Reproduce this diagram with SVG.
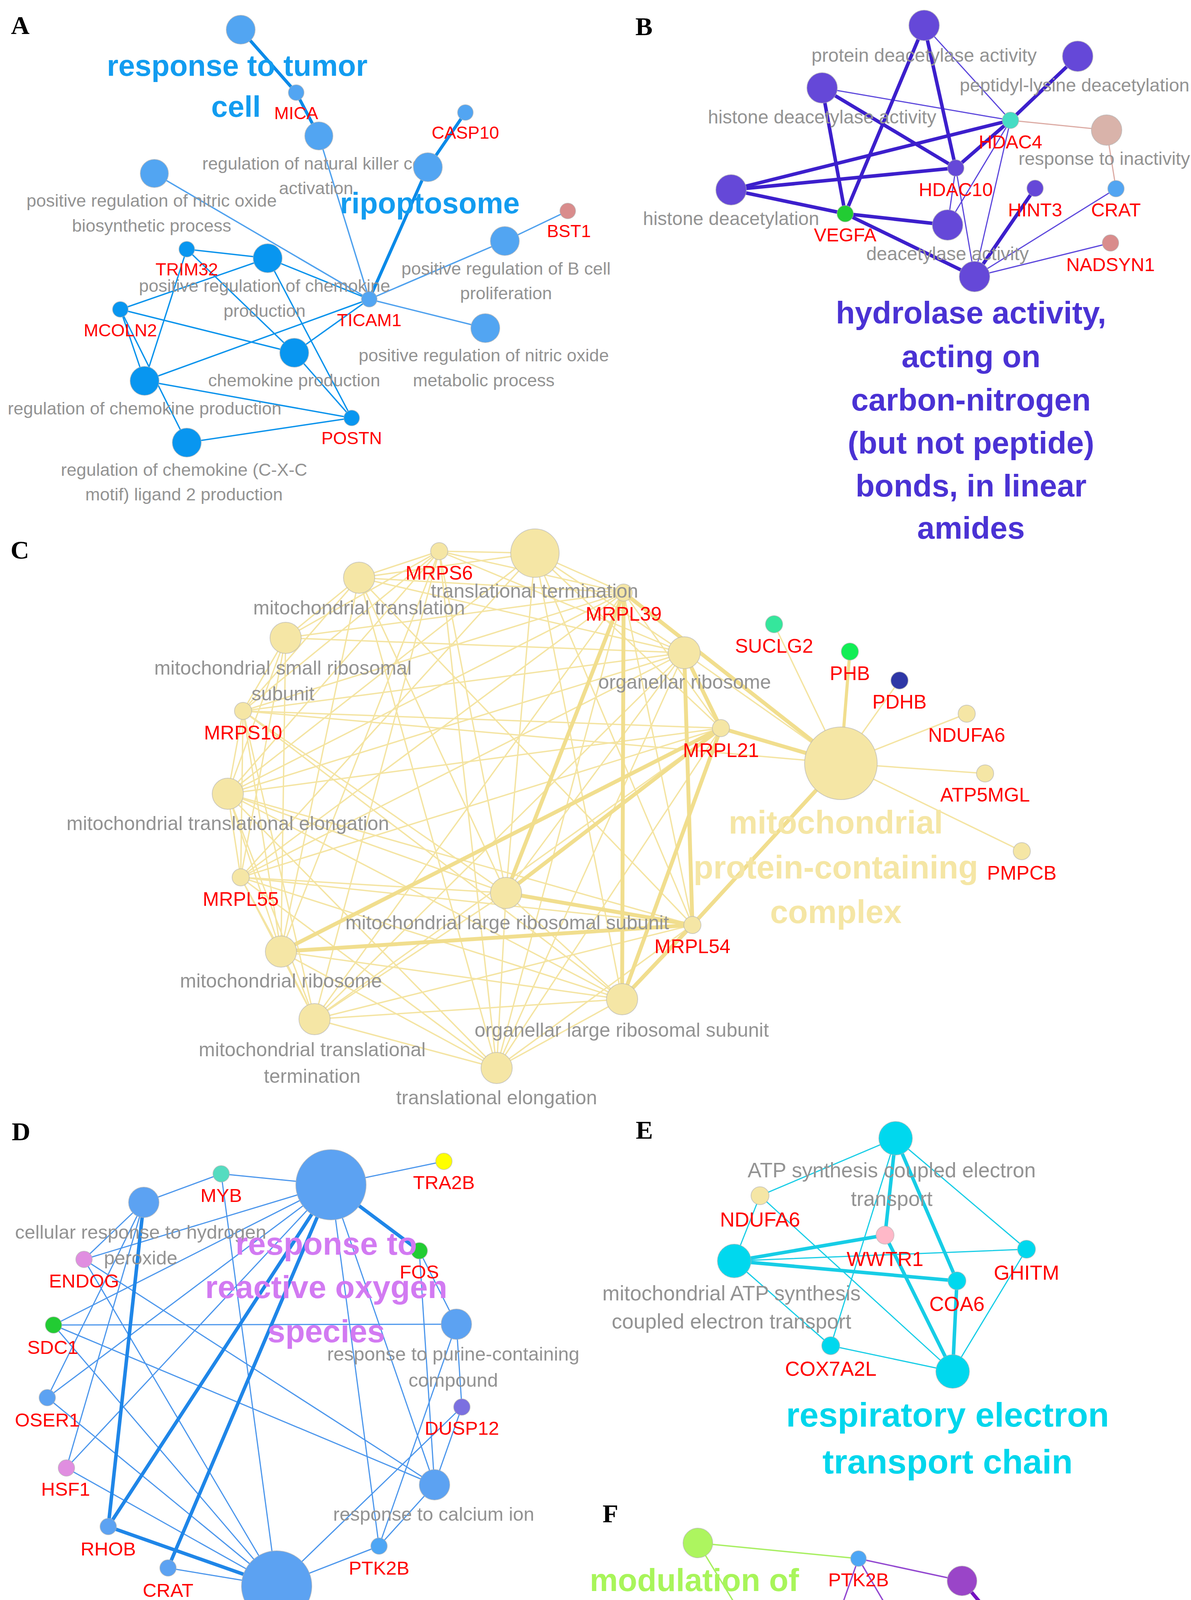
<svg xmlns="http://www.w3.org/2000/svg" width="3048" height="4742" viewBox="0 0 3048 4742">
<style>
.lbl{font-family:"Liberation Sans",Arial,sans-serif;text-anchor:middle;dominant-baseline:central}
.gr{fill:#939393}
.rd{fill:#ff0000}
.bd{font-weight:bold}
.pl{font-family:"Liberation Serif","Times New Roman",serif;font-weight:bold;font-size:66px;fill:#000}
circle{stroke:#b0b0b0;stroke-width:2;stroke-opacity:.6}
line{stroke-linecap:round}
.fa{font-size:45px}.fb{font-size:48px}.fc{font-size:50px}.fd{font-size:49px}.fe{font-size:53px}.fe2{font-size:52px}.ff{font-size:49px}
.ea1{stroke:#0a8ae8;stroke-width:8}.ea2{stroke:#4fa1ee;stroke-width:3.5}.ea3{stroke:#0b93ec;stroke-width:3.5}
.eb1{stroke:#3c1fcc;stroke-width:9}.eb2{stroke:#5c47dc;stroke-width:3}.eb3{stroke:#dcaba4;stroke-width:3}
.ec1{stroke:#f1de8e;stroke-width:10}.ec2{stroke:#f4e4a2;stroke-width:3.5}
.ed1{stroke:#1f86e8;stroke-width:9}.ed2{stroke:#4b96ec;stroke-width:3}
.ee1{stroke:#17cde6;stroke-width:9}.ee2{stroke:#17cde6;stroke-width:3}
.ef1{stroke:#7412c0;stroke-width:9}.ef2{stroke:#9348d0;stroke-width:3.5}.ef3{stroke:#a8ef62;stroke-width:3.5}
</style>
<rect width="3048" height="4742" fill="#ffffff"/>

<g id="panel-letters">
<text class="pl" x="28" y="87">A</text>
<text class="pl" x="1626" y="90">B</text>
<text class="pl" x="27" y="1430">C</text>
<text class="pl" x="30" y="2919">D</text>
<text class="pl" x="1627" y="2915">E</text>
<text class="pl" x="1542" y="3897">F</text>
</g>

<g id="connectors">
<!-- Panel A -->
<line class="ea1" x1="616" y1="76" x2="758" y2="237"/>
<line class="ea1" x1="758" y1="237" x2="816" y2="348"/>
<line class="ea1" x1="1191" y1="288" x2="1095" y2="428"/>
<line class="ea1" x1="1095" y1="428" x2="945" y2="766"/>
<line class="ea2" x1="816" y1="348" x2="945" y2="766"/>
<line class="ea2" x1="395" y1="444" x2="945" y2="766"/>
<line class="ea2" x1="1292" y1="617" x2="945" y2="766"/>
<line class="ea2" x1="1453" y1="540" x2="1292" y2="617"/>
<line class="ea2" x1="1242" y1="840" x2="945" y2="766"/>
<line class="ea3" x1="685" y1="661" x2="945" y2="766"/>
<line class="ea3" x1="753" y1="903" x2="945" y2="766"/>
<line class="ea3" x1="370" y1="975" x2="945" y2="766"/>
<line class="ea3" x1="478" y1="638" x2="685" y2="661"/>
<line class="ea3" x1="478" y1="638" x2="753" y2="903"/>
<line class="ea3" x1="478" y1="638" x2="370" y2="975"/>
<line class="ea3" x1="308" y1="792" x2="685" y2="661"/>
<line class="ea3" x1="308" y1="792" x2="753" y2="903"/>
<line class="ea3" x1="308" y1="792" x2="370" y2="975"/>
<line class="ea3" x1="308" y1="792" x2="478" y2="1133"/>
<line class="ea3" x1="685" y1="661" x2="900" y2="1070"/>
<line class="ea3" x1="753" y1="903" x2="900" y2="1070"/>
<line class="ea3" x1="370" y1="975" x2="900" y2="1070"/>
<line class="ea3" x1="478" y1="1133" x2="900" y2="1070"/>
<!-- Panel B -->
<line class="eb2" x1="2365" y1="65" x2="2586" y2="308"/>
<line class="eb2" x1="2104" y1="225" x2="2586" y2="308"/>
<line class="eb2" x1="2586" y1="308" x2="2425" y2="576"/>
<line class="eb2" x1="2586" y1="308" x2="2494" y2="708"/>
<line class="eb2" x1="2446" y1="430" x2="2425" y2="576"/>
<line class="eb2" x1="2446" y1="430" x2="2494" y2="708"/>
<line class="eb2" x1="2856" y1="483" x2="2494" y2="708"/>
<line class="eb2" x1="2842" y1="622" x2="2494" y2="708"/>
<line class="eb3" x1="2586" y1="308" x2="2832" y2="333"/>
<line class="eb3" x1="2832" y1="333" x2="2856" y2="483"/>
<line class="eb1" x1="2365" y1="65" x2="2163" y2="547"/>
<line class="eb1" x1="2365" y1="65" x2="2446" y2="430"/>
<line class="eb1" x1="2104" y1="225" x2="2163" y2="547"/>
<line class="eb1" x1="2104" y1="225" x2="2446" y2="430"/>
<line class="eb1" x1="1871" y1="486" x2="2586" y2="308"/>
<line class="eb1" x1="1871" y1="486" x2="2446" y2="430"/>
<line class="eb1" x1="1871" y1="486" x2="2163" y2="547"/>
<line class="eb1" x1="2163" y1="547" x2="2425" y2="576"/>
<line class="eb1" x1="2163" y1="547" x2="2494" y2="708"/>
<line class="eb1" x1="2586" y1="308" x2="2758" y2="144"/>
<line class="eb1" x1="2586" y1="308" x2="2446" y2="430"/>
<line class="eb1" x1="2649" y1="482" x2="2494" y2="708"/>
<!-- Panel C thin -->
<line class="ec2" x1="1124" y1="1411" x2="919" y2="1479"/>
<line class="ec2" x1="1124" y1="1411" x2="1369" y2="1416"/>
<line class="ec2" x1="1124" y1="1411" x2="1596" y2="1517"/>
<line class="ec2" x1="1124" y1="1411" x2="731" y2="1633"/>
<line class="ec2" x1="1124" y1="1411" x2="622" y2="1820"/>
<line class="ec2" x1="1124" y1="1411" x2="583" y2="2032"/>
<line class="ec2" x1="1124" y1="1411" x2="719" y2="2436"/>
<line class="ec2" x1="1124" y1="1411" x2="805" y2="2609"/>
<line class="ec2" x1="1124" y1="1411" x2="1271" y2="2734"/>
<line class="ec2" x1="1124" y1="1411" x2="1295" y2="2286"/>
<line class="ec2" x1="1124" y1="1411" x2="1751" y2="1671"/>
<line class="ec2" x1="1369" y1="1416" x2="919" y2="1479"/>
<line class="ec2" x1="1369" y1="1416" x2="1596" y2="1517"/>
<line class="ec2" x1="1369" y1="1416" x2="1751" y2="1671"/>
<line class="ec2" x1="1369" y1="1416" x2="1845" y2="1864"/>
<line class="ec2" x1="1369" y1="1416" x2="616" y2="2246"/>
<line class="ec2" x1="1369" y1="1416" x2="583" y2="2032"/>
<line class="ec2" x1="1369" y1="1416" x2="1295" y2="2286"/>
<line class="ec2" x1="1369" y1="1416" x2="1592" y2="2558"/>
<line class="ec2" x1="1369" y1="1416" x2="1772" y2="2368"/>
<line class="ec2" x1="919" y1="1479" x2="731" y2="1633"/>
<line class="ec2" x1="919" y1="1479" x2="622" y2="1820"/>
<line class="ec2" x1="919" y1="1479" x2="1596" y2="1517"/>
<line class="ec2" x1="919" y1="1479" x2="1751" y2="1671"/>
<line class="ec2" x1="919" y1="1479" x2="1295" y2="2286"/>
<line class="ec2" x1="919" y1="1479" x2="1271" y2="2734"/>
<line class="ec2" x1="919" y1="1479" x2="719" y2="2436"/>
<line class="ec2" x1="919" y1="1479" x2="1772" y2="2368"/>
<line class="ec2" x1="1596" y1="1517" x2="731" y2="1633"/>
<line class="ec2" x1="1596" y1="1517" x2="622" y2="1820"/>
<line class="ec2" x1="1596" y1="1517" x2="583" y2="2032"/>
<line class="ec2" x1="1596" y1="1517" x2="616" y2="2246"/>
<line class="ec2" x1="1596" y1="1517" x2="805" y2="2609"/>
<line class="ec2" x1="1596" y1="1517" x2="1271" y2="2734"/>
<line class="ec2" x1="1596" y1="1517" x2="1772" y2="2368"/>
<line class="ec2" x1="1596" y1="1517" x2="1845" y2="1864"/>
<line class="ec2" x1="731" y1="1633" x2="622" y2="1820"/>
<line class="ec2" x1="731" y1="1633" x2="583" y2="2032"/>
<line class="ec2" x1="731" y1="1633" x2="616" y2="2246"/>
<line class="ec2" x1="731" y1="1633" x2="719" y2="2436"/>
<line class="ec2" x1="731" y1="1633" x2="1751" y2="1671"/>
<line class="ec2" x1="1751" y1="1671" x2="622" y2="1820"/>
<line class="ec2" x1="1751" y1="1671" x2="583" y2="2032"/>
<line class="ec2" x1="1751" y1="1671" x2="616" y2="2246"/>
<line class="ec2" x1="1751" y1="1671" x2="805" y2="2609"/>
<line class="ec2" x1="1751" y1="1671" x2="1295" y2="2286"/>
<line class="ec2" x1="1751" y1="1671" x2="1271" y2="2734"/>
<line class="ec2" x1="1751" y1="1671" x2="2152" y2="1954"/>
<line class="ec2" x1="622" y1="1820" x2="583" y2="2032"/>
<line class="ec2" x1="622" y1="1820" x2="616" y2="2246"/>
<line class="ec2" x1="622" y1="1820" x2="719" y2="2436"/>
<line class="ec2" x1="622" y1="1820" x2="805" y2="2609"/>
<line class="ec2" x1="622" y1="1820" x2="1295" y2="2286"/>
<line class="ec2" x1="622" y1="1820" x2="2152" y2="1954"/>
<line class="ec2" x1="622" y1="1820" x2="1845" y2="1864"/>
<line class="ec2" x1="622" y1="1820" x2="1592" y2="2558"/>
<line class="ec2" x1="583" y1="2032" x2="616" y2="2246"/>
<line class="ec2" x1="583" y1="2032" x2="719" y2="2436"/>
<line class="ec2" x1="583" y1="2032" x2="805" y2="2609"/>
<line class="ec2" x1="583" y1="2032" x2="1845" y2="1864"/>
<line class="ec2" x1="583" y1="2032" x2="1295" y2="2286"/>
<line class="ec2" x1="583" y1="2032" x2="1592" y2="2558"/>
<line class="ec2" x1="583" y1="2032" x2="1271" y2="2734"/>
<line class="ec2" x1="583" y1="2032" x2="1772" y2="2368"/>
<line class="ec2" x1="616" y1="2246" x2="719" y2="2436"/>
<line class="ec2" x1="616" y1="2246" x2="805" y2="2609"/>
<line class="ec2" x1="616" y1="2246" x2="1295" y2="2286"/>
<line class="ec2" x1="616" y1="2246" x2="1845" y2="1864"/>
<line class="ec2" x1="616" y1="2246" x2="1592" y2="2558"/>
<line class="ec2" x1="616" y1="2246" x2="1271" y2="2734"/>
<line class="ec2" x1="616" y1="2246" x2="1772" y2="2368"/>
<line class="ec2" x1="1295" y1="2286" x2="805" y2="2609"/>
<line class="ec2" x1="1295" y1="2286" x2="1271" y2="2734"/>
<line class="ec2" x1="1295" y1="2286" x2="1592" y2="2558"/>
<line class="ec2" x1="719" y1="2436" x2="805" y2="2609"/>
<line class="ec2" x1="719" y1="2436" x2="1271" y2="2734"/>
<line class="ec2" x1="719" y1="2436" x2="1592" y2="2558"/>
<line class="ec2" x1="805" y1="2609" x2="1271" y2="2734"/>
<line class="ec2" x1="805" y1="2609" x2="1592" y2="2558"/>
<line class="ec2" x1="805" y1="2609" x2="1772" y2="2368"/>
<line class="ec2" x1="805" y1="2609" x2="1845" y2="1864"/>
<line class="ec2" x1="1271" y1="2734" x2="1592" y2="2558"/>
<line class="ec2" x1="1271" y1="2734" x2="1772" y2="2368"/>
<line class="ec2" x1="1271" y1="2734" x2="1845" y2="1864"/>
<line class="ec2" x1="2152" y1="1954" x2="1981" y2="1598"/>
<line class="ec2" x1="2152" y1="1954" x2="2302" y2="1742"/>
<line class="ec2" x1="2152" y1="1954" x2="2474" y2="1827"/>
<line class="ec2" x1="2152" y1="1954" x2="2521" y2="1980"/>
<line class="ec2" x1="2152" y1="1954" x2="2615" y2="2179"/>
<!-- Panel C thick -->
<line class="ec1" style="stroke-width:8" x1="2175" y1="1668" x2="2152" y2="1954"/>
<line class="ec1" x1="1596" y1="1517" x2="2152" y2="1954"/>
<line class="ec1" x1="1845" y1="1864" x2="2152" y2="1954"/>
<line class="ec1" x1="1596" y1="1517" x2="1295" y2="2286"/>
<line class="ec1" x1="1596" y1="1517" x2="1592" y2="2558"/>
<line class="ec1" x1="1751" y1="1671" x2="1845" y2="1864"/>
<line class="ec1" x1="1751" y1="1671" x2="1772" y2="2368"/>
<line class="ec1" x1="1845" y1="1864" x2="719" y2="2436"/>
<line class="ec1" x1="1845" y1="1864" x2="1295" y2="2286"/>
<line class="ec1" x1="1845" y1="1864" x2="1592" y2="2558"/>
<line class="ec1" x1="719" y1="2436" x2="1772" y2="2368"/>
<line class="ec1" x1="1295" y1="2286" x2="1772" y2="2368"/>
<line class="ec1" x1="1772" y1="2368" x2="1592" y2="2558"/>
<line class="ec1" x1="1772" y1="2368" x2="2152" y2="1954"/>
<!-- Panel D -->
<line class="ed2" x1="847" y1="3033" x2="566" y2="3005"/>
<line class="ed2" x1="847" y1="3033" x2="1136" y2="2973"/>
<line class="ed2" x1="566" y1="3005" x2="368" y2="3078"/>
<line class="ed2" x1="566" y1="3005" x2="708" y2="4060"/>
<line class="ed2" x1="847" y1="3033" x2="215" y2="3224"/>
<line class="ed2" x1="847" y1="3033" x2="137" y2="3392"/>
<line class="ed2" x1="847" y1="3033" x2="121" y2="3578"/>
<line class="ed2" x1="847" y1="3033" x2="170" y2="3758"/>
<line class="ed2" x1="847" y1="3033" x2="970" y2="3958"/>
<line class="ed2" x1="847" y1="3033" x2="1112" y2="3801"/>
<line class="ed2" x1="1073" y1="3202" x2="1112" y2="3801"/>
<line class="ed2" x1="1073" y1="3202" x2="1168" y2="3390"/>
<line class="ed2" x1="1168" y1="3390" x2="1182" y2="3602"/>
<line class="ed2" x1="1168" y1="3390" x2="970" y2="3958"/>
<line class="ed2" x1="1182" y1="3602" x2="708" y2="4060"/>
<line class="ed2" x1="1182" y1="3602" x2="1112" y2="3801"/>
<line class="ed2" x1="1112" y1="3801" x2="970" y2="3958"/>
<line class="ed2" x1="970" y1="3958" x2="708" y2="4060"/>
<line class="ed2" x1="137" y1="3392" x2="1168" y2="3390"/>
<line class="ed2" x1="137" y1="3392" x2="1112" y2="3801"/>
<line class="ed2" x1="137" y1="3392" x2="708" y2="4060"/>
<line class="ed2" x1="368" y1="3078" x2="215" y2="3224"/>
<line class="ed2" x1="368" y1="3078" x2="121" y2="3578"/>
<line class="ed2" x1="368" y1="3078" x2="170" y2="3758"/>
<line class="ed2" x1="215" y1="3224" x2="1112" y2="3801"/>
<line class="ed2" x1="215" y1="3224" x2="708" y2="4060"/>
<line class="ed2" x1="121" y1="3578" x2="708" y2="4060"/>
<line class="ed2" x1="170" y1="3758" x2="708" y2="4060"/>
<line class="ed2" x1="430" y1="4014" x2="708" y2="4060"/>
<line class="ed1" x1="847" y1="3033" x2="277" y2="3908"/>
<line class="ed1" x1="847" y1="3033" x2="430" y2="4014"/>
<line class="ed1" x1="847" y1="3033" x2="1073" y2="3202"/>
<line class="ed1" x1="368" y1="3078" x2="277" y2="3908"/>
<line class="ed1" x1="277" y1="3908" x2="708" y2="4060"/>
<!-- Panel E -->
<line class="ee2" x1="2292" y1="2914" x2="1945" y2="3061"/>
<line class="ee2" x1="2292" y1="2914" x2="2126" y2="3445"/>
<line class="ee2" x1="2292" y1="2914" x2="2627" y2="3198"/>
<line class="ee2" x1="1945" y1="3061" x2="1879" y2="3228"/>
<line class="ee2" x1="1945" y1="3061" x2="2438" y2="3511"/>
<line class="ee2" x1="1879" y1="3228" x2="2627" y2="3198"/>
<line class="ee2" x1="1879" y1="3228" x2="2126" y2="3445"/>
<line class="ee2" x1="2126" y1="3445" x2="2438" y2="3511"/>
<line class="ee2" x1="2627" y1="3198" x2="2438" y2="3511"/>
<line class="ee1" x1="2292" y1="2914" x2="2265" y2="3162"/>
<line class="ee1" x1="2292" y1="2914" x2="2449" y2="3279"/>
<line class="ee1" x1="2265" y1="3162" x2="2438" y2="3511"/>
<line class="ee1" x1="1879" y1="3228" x2="2265" y2="3162"/>
<line class="ee1" x1="1879" y1="3228" x2="2449" y2="3279"/>
<line class="ee1" x1="2449" y1="3279" x2="2438" y2="3511"/>
<!-- Panel F -->
<line class="ef3" x1="1786" y1="3950" x2="2197" y2="3990"/>
<line class="ef3" x1="1786" y1="3950" x2="2092" y2="4453"/>
<line class="ef2" x1="2197" y1="3990" x2="2462" y2="4047"/>
<line class="ef2" x1="2197" y1="3990" x2="2106" y2="4248"/>
<line class="ef2" x1="2197" y1="3990" x2="2493" y2="4496"/>
<line class="ef2" x1="2106" y1="4248" x2="2352" y2="4364"/>
<line class="ef2" x1="2352" y1="4364" x2="2493" y2="4496"/>
<line class="ef2" x1="2092" y1="4453" x2="2493" y2="4496"/>
<line class="ef2" x1="2740" y1="4404" x2="2493" y2="4496"/>
<line class="ef1" x1="2462" y1="4047" x2="2625" y2="4241"/>
<line class="ef1" x1="2106" y1="4248" x2="2625" y2="4241"/>
<line class="ef1" x1="2625" y1="4241" x2="2493" y2="4496"/>
</g>

<!-- ===== Panel A nodes ===== -->
<g id="a-mica"><circle cx="758" cy="237" r="20" fill="#52a5f2"/><text class="lbl rd fa" x="758" y="289">MICA</text></g>
<g id="a-casp10"><circle cx="1191" cy="288" r="20" fill="#52a5f2"/><text class="lbl rd fa" x="1191" y="339">CASP10</text></g>
<g id="a-bst1"><circle cx="1453" cy="540" r="20" fill="#d98c8c"/><text class="lbl rd fa" x="1456" y="591">BST1</text></g>
<g id="a-trim32"><circle cx="478" cy="638" r="20" fill="#0896f0"/><text class="lbl rd fa" x="478" y="689">TRIM32</text></g>
<g id="a-ticam1"><circle cx="945" cy="766" r="20" fill="#52a5f2"/><text class="lbl rd fa" x="945" y="819">TICAM1</text></g>
<g id="a-mcoln2"><circle cx="308" cy="792" r="20" fill="#0896f0"/><text class="lbl rd fa" x="308" y="845">MCOLN2</text></g>
<g id="a-postn"><circle cx="900" cy="1070" r="20" fill="#0896f0"/><text class="lbl rd fa" x="900" y="1121">POSTN</text></g>
<g id="a-tumor"><circle cx="616" cy="76" r="37" fill="#52a5f2"/></g>
<g id="a-nk"><circle cx="816" cy="348" r="36" fill="#52a5f2"/><text class="lbl gr fa" x="809" y="418">regulation of natural killer cell</text><text class="lbl gr fa" x="809" y="481">activation</text></g>
<g id="a-ripoptosome"><circle cx="1095" cy="428" r="37" fill="#52a5f2"/></g>
<g id="a-nobio"><circle cx="395" cy="444" r="36" fill="#52a5f2"/><text class="lbl gr fa" x="388" y="513">positive regulation of nitric oxide</text><text class="lbl gr fa" x="388" y="577">biosynthetic process</text></g>
<g id="a-bcell"><circle cx="1292" cy="617" r="37" fill="#52a5f2"/><text class="lbl gr fa" x="1295" y="687">positive regulation of B cell</text><text class="lbl gr fa" x="1295" y="750">proliferation</text></g>
<g id="a-poschemo"><circle cx="685" cy="661" r="37" fill="#0896f0"/><text class="lbl gr fa" x="677" y="731">positive regulation of chemokine</text><text class="lbl gr fa" x="677" y="795">production</text></g>
<g id="a-nomet"><circle cx="1242" cy="840" r="37" fill="#52a5f2"/><text class="lbl gr fa" x="1238" y="909">positive regulation of nitric oxide</text><text class="lbl gr fa" x="1238" y="973">metabolic process</text></g>
<g id="a-chemoprod"><circle cx="753" cy="903" r="37" fill="#0896f0"/><text class="lbl gr fa" x="753" y="973">chemokine production</text></g>
<g id="a-regchemo"><circle cx="370" cy="975" r="37" fill="#0896f0"/><text class="lbl gr fa" x="370" y="1045">regulation of chemokine production</text></g>
<g id="a-cxcl2"><circle cx="478" cy="1133" r="37" fill="#0896f0"/><text class="lbl gr fa" x="471" y="1202">regulation of chemokine (C-X-C</text><text class="lbl gr fa" x="471" y="1265">motif) ligand 2 production</text></g>
<g id="a-cluster-labels" fill="#129cf0">
<text class="lbl bd" style="font-size:76px" x="607" y="167">response to tumor</text>
<text class="lbl bd" style="font-size:76px" x="604" y="272">cell</text>
<text class="lbl bd" style="font-size:76px" x="1100" y="519">ripoptosome</text>
</g>

<!-- ===== Panel B nodes ===== -->
<g id="b-hdac4"><circle cx="2586" cy="308" r="21" fill="#45dcc4"/><text class="lbl rd fb" x="2586" y="363">HDAC4</text></g>
<g id="b-hdac10"><circle cx="2446" cy="430" r="21" fill="#6548d8"/><text class="lbl rd fb" x="2446" y="485">HDAC10</text></g>
<g id="b-hint3"><circle cx="2649" cy="482" r="21" fill="#6548d8"/><text class="lbl rd fb" x="2649" y="537">HINT3</text></g>
<g id="b-crat"><circle cx="2856" cy="483" r="21" fill="#52a5f2"/><text class="lbl rd fb" x="2856" y="537">CRAT</text></g>
<g id="b-vegfa"><circle cx="2163" cy="547" r="21" fill="#22cc33"/><text class="lbl rd fb" x="2163" y="601">VEGFA</text></g>
<g id="b-nadsyn1"><circle cx="2842" cy="622" r="21" fill="#d98c8c"/><text class="lbl rd fb" x="2842" y="677">NADSYN1</text></g>
<g id="b-pda"><circle cx="2365" cy="65" r="39" fill="#6548d8"/><text class="lbl gr fb" x="2365" y="141">protein deacetylase activity</text></g>
<g id="b-pld"><circle cx="2758" cy="144" r="39" fill="#6548d8"/><text class="lbl gr" style="font-size:47px" x="2750" y="217">peptidyl-lysine deacetylation</text></g>
<g id="b-hda"><circle cx="2104" cy="225" r="39" fill="#6548d8"/><text class="lbl gr fb" x="2104" y="299">histone deacetylase activity</text></g>
<g id="b-ri"><circle cx="2832" cy="333" r="39" fill="#d9b3aa"/><text class="lbl gr" style="font-size:47px" x="2826" y="405">response to inactivity</text></g>
<g id="b-hd"><circle cx="1871" cy="486" r="39" fill="#6548d8"/><text class="lbl gr fb" x="1871" y="559">histone deacetylation</text></g>
<g id="b-da"><circle cx="2425" cy="576" r="39" fill="#6548d8"/><text class="lbl gr fb" x="2425" y="649">deacetylase activity</text></g>
<g id="b-hyd"><circle cx="2494" cy="708" r="39" fill="#6548d8"/></g>
<g id="b-cluster-labels" fill="#4a32d4">
<text class="lbl bd" style="font-size:80px" x="2485" y="800">hydrolase activity,</text>
<text class="lbl bd" style="font-size:80px" x="2485" y="912">acting on</text>
<text class="lbl bd" style="font-size:80px" x="2485" y="1023">carbon-nitrogen</text>
<text class="lbl bd" style="font-size:80px" x="2485" y="1133">(but not peptide)</text>
<text class="lbl bd" style="font-size:80px" x="2485" y="1243">bonds, in linear</text>
<text class="lbl bd" style="font-size:80px" x="2485" y="1351">amides</text>
</g>

<!-- ===== Panel C nodes ===== -->
<g id="c-mrps6"><circle cx="1124" cy="1411" r="22" fill="#f5e6a5"/><text class="lbl rd fc" x="1124" y="1467">MRPS6</text></g>
<g id="c-mrpl39"><circle cx="1596" cy="1517" r="22" fill="#f5e6a5"/><text class="lbl rd fc" x="1596" y="1572">MRPL39</text></g>
<g id="c-mrps10"><circle cx="622" cy="1820" r="22" fill="#f5e6a5"/><text class="lbl rd fc" x="622" y="1876">MRPS10</text></g>
<g id="c-mrpl21"><circle cx="1845" cy="1864" r="22" fill="#f5e6a5"/><text class="lbl rd fc" x="1845" y="1921">MRPL21</text></g>
<g id="c-mrpl55"><circle cx="616" cy="2246" r="22" fill="#f5e6a5"/><text class="lbl rd fc" x="616" y="2302">MRPL55</text></g>
<g id="c-mrpl54"><circle cx="1772" cy="2368" r="22" fill="#f5e6a5"/><text class="lbl rd fc" x="1772" y="2423">MRPL54</text></g>
<g id="c-suclg2"><circle cx="1981" cy="1598" r="22" fill="#35e69c"/><text class="lbl rd fc" x="1981" y="1654">SUCLG2</text></g>
<g id="c-phb"><circle cx="2175" cy="1668" r="22" fill="#11ee55"/><text class="lbl rd fc" x="2175" y="1724">PHB</text></g>
<g id="c-pdhb"><circle cx="2302" cy="1742" r="22" fill="#2e37a6"/><text class="lbl rd fc" x="2302" y="1797">PDHB</text></g>
<g id="c-ndufa6"><circle cx="2474" cy="1827" r="22" fill="#f5e6a5"/><text class="lbl rd fc" x="2474" y="1882">NDUFA6</text></g>
<g id="c-atp5mgl"><circle cx="2521" cy="1980" r="22" fill="#f5e6a5"/><text class="lbl rd fc" x="2521" y="2035">ATP5MGL</text></g>
<g id="c-pmpcb"><circle cx="2615" cy="2179" r="22" fill="#f5e6a5"/><text class="lbl rd fc" x="2615" y="2235">PMPCB</text></g>
<g id="c-tt"><circle cx="1369" cy="1416" r="62" fill="#f5e6a5"/><text class="lbl gr fc" x="1368" y="1513">translational termination</text></g>
<g id="c-mt"><circle cx="919" cy="1479" r="40" fill="#f5e6a5"/><text class="lbl gr fc" x="919" y="1556">mitochondrial translation</text></g>
<g id="c-msrs"><circle cx="731" cy="1633" r="40" fill="#f5e6a5"/><text class="lbl gr fc" x="724" y="1710">mitochondrial small ribosomal</text><text class="lbl gr fc" x="724" y="1776">subunit</text></g>
<g id="c-or"><circle cx="1751" cy="1671" r="41" fill="#f5e6a5"/><text class="lbl gr fc" x="1752" y="1746">organellar ribosome</text></g>
<g id="c-mte"><circle cx="583" cy="2032" r="40" fill="#f5e6a5"/><text class="lbl gr fc" x="583" y="2108">mitochondrial translational elongation</text></g>
<g id="c-mlrs"><circle cx="1295" cy="2286" r="40" fill="#f5e6a5"/><text class="lbl gr fc" x="1298" y="2362">mitochondrial large ribosomal subunit</text></g>
<g id="c-mr"><circle cx="719" cy="2436" r="40" fill="#f5e6a5"/><text class="lbl gr fc" x="719" y="2511">mitochondrial ribosome</text></g>
<g id="c-olrs"><circle cx="1592" cy="2558" r="40" fill="#f5e6a5"/><text class="lbl gr fc" x="1591" y="2637">organellar large ribosomal subunit</text></g>
<g id="c-mtt"><circle cx="805" cy="2609" r="40" fill="#f5e6a5"/><text class="lbl gr fc" x="799" y="2687">mitochondrial translational</text><text class="lbl gr fc" x="799" y="2755">termination</text></g>
<g id="c-te"><circle cx="1271" cy="2734" r="40" fill="#f5e6a5"/><text class="lbl gr fc" x="1271" y="2810">translational elongation</text></g>
<g id="c-big"><circle cx="2152" cy="1954" r="93" fill="#f5e6a5"/></g>
<g id="c-cluster-labels" fill="#f5e6a5">
<text class="lbl bd" style="font-size:83px" x="2139" y="2105">mitochondrial</text>
<text class="lbl bd" style="font-size:83px" x="2139" y="2220">protein-containing</text>
<text class="lbl bd" style="font-size:83px" x="2139" y="2334">complex</text>
</g>

<!-- ===== Panel D nodes ===== -->
<g id="d-tra2b"><circle cx="1136" cy="2973" r="21" fill="#ffff00"/><text class="lbl rd fd" x="1136" y="3027">TRA2B</text></g>
<g id="d-myb"><circle cx="566" cy="3005" r="21" fill="#55dcc0"/><text class="lbl rd fd" x="566" y="3060">MYB</text></g>
<g id="d-fos"><circle cx="1073" cy="3202" r="21" fill="#22cc33"/><text class="lbl rd fd" x="1073" y="3256">FOS</text></g>
<g id="d-endog"><circle cx="215" cy="3224" r="21" fill="#e08ee0"/><text class="lbl rd fd" x="215" y="3279">ENDOG</text></g>
<g id="d-sdc1"><circle cx="137" cy="3392" r="21" fill="#22cc33"/><text class="lbl rd fd" x="135" y="3449">SDC1</text></g>
<g id="d-oser1"><circle cx="121" cy="3578" r="21" fill="#5ca2f2"/><text class="lbl rd fd" x="121" y="3635">OSER1</text></g>
<g id="d-dusp12"><circle cx="1182" cy="3602" r="21" fill="#7b70e0"/><text class="lbl rd fd" x="1182" y="3656">DUSP12</text></g>
<g id="d-hsf1"><circle cx="170" cy="3758" r="21" fill="#e08ee0"/><text class="lbl rd fd" x="168" y="3812">HSF1</text></g>
<g id="d-rhob"><circle cx="277" cy="3908" r="21" fill="#5ca2f2"/><text class="lbl rd fd" x="277" y="3965">RHOB</text></g>
<g id="d-ptk2b"><circle cx="970" cy="3958" r="21" fill="#4da6f5"/><text class="lbl rd fd" x="970" y="4014">PTK2B</text></g>
<g id="d-crat"><circle cx="430" cy="4014" r="21" fill="#5ca2f2"/><text class="lbl rd fd" x="430" y="4071">CRAT</text></g>
<g id="d-cellh2o2"><circle cx="368" cy="3078" r="39" fill="#5ca2f2"/><text class="lbl gr fd" x="360" y="3154">cellular response to hydrogen</text><text class="lbl gr fd" x="360" y="3220">peroxide</text></g>
<g id="d-purine"><circle cx="1168" cy="3390" r="39" fill="#5ca2f2"/><text class="lbl gr fd" x="1160" y="3466">response to purine-containing</text><text class="lbl gr fd" x="1160" y="3533">compound</text></g>
<g id="d-calcium"><circle cx="1112" cy="3801" r="39" fill="#5ca2f2"/><text class="lbl gr fd" x="1110" y="3876">response to calcium ion</text></g>
<g id="d-ros"><circle cx="847" cy="3033" r="90" fill="#5ca2f2"/></g>
<g id="d-h2o2"><circle cx="708" cy="4060" r="90" fill="#5ca2f2"/></g>
<g id="d-cluster-labels">
<text class="lbl bd" style="font-size:82px" fill="#d27af2" x="835" y="3183">response to</text>
<text class="lbl bd" style="font-size:82px" fill="#d27af2" x="835" y="3294">reactive oxygen</text>
<text class="lbl bd" style="font-size:82px" fill="#d27af2" x="835" y="3407">species</text>
<text class="lbl bd" style="font-size:82px" fill="#3f90e8" x="697" y="4209">response to</text>
<text class="lbl bd" style="font-size:82px" fill="#3f90e8" x="697" y="4322">hydrogen peroxide</text>
</g>

<!-- ===== Panel E nodes ===== -->
<g id="e-ndufa6"><circle cx="1945" cy="3061" r="23" fill="#f5e6a5"/><text class="lbl rd fe2" x="1945" y="3122">NDUFA6</text></g>
<g id="e-wwtr1"><circle cx="2265" cy="3162" r="23" fill="#ffb8c8"/><text class="lbl rd fe2" x="2265" y="3223">WWTR1</text></g>
<g id="e-ghitm"><circle cx="2627" cy="3198" r="23" fill="#00d8ee"/><text class="lbl rd fe2" x="2627" y="3258">GHITM</text></g>
<g id="e-coa6"><circle cx="2449" cy="3279" r="23" fill="#00d8ee"/><text class="lbl rd fe2" x="2449" y="3338">COA6</text></g>
<g id="e-cox7a2l"><circle cx="2126" cy="3445" r="23" fill="#00d8ee"/><text class="lbl rd fe2" x="2126" y="3504">COX7A2L</text></g>
<g id="e-atpsyn"><circle cx="2292" cy="2914" r="43" fill="#00d8ee"/><text class="lbl gr fe" x="2282" y="2995">ATP synthesis coupled electron</text><text class="lbl gr fe" x="2282" y="3068">transport</text></g>
<g id="e-mitoatp"><circle cx="1879" cy="3228" r="43" fill="#00d8ee"/><text class="lbl gr fe" x="1872" y="3310">mitochondrial ATP synthesis</text><text class="lbl gr fe" x="1872" y="3382">coupled electron transport</text></g>
<g id="e-resp"><circle cx="2438" cy="3511" r="43" fill="#00d8ee"/></g>
<g id="e-cluster-labels" fill="#00d6ec">
<text class="lbl bd" style="font-size:88px" x="2425" y="3621">respiratory electron</text>
<text class="lbl bd" style="font-size:88px" x="2425" y="3741">transport chain</text>
</g>

<!-- ===== Panel F nodes ===== -->
<g id="f-ptk2b"><circle cx="2197" cy="3990" r="20" fill="#4da6f5"/><text class="lbl rd ff" x="2197" y="4044">PTK2B</text></g>
<g id="f-cd244"><circle cx="2625" cy="4241" r="20" fill="#9a45c8"/><text class="lbl rd ff" x="2625" y="4296">CD244</text></g>
<g id="f-ppip5k1"><circle cx="2352" cy="4364" r="20" fill="#9a45c8"/><text class="lbl rd ff" x="2352" y="4418">PPIP5K1</text></g>
<g id="f-pld4"><circle cx="2740" cy="4404" r="20" fill="#9a45c8"/><text class="lbl rd ff" x="2740" y="4459">PLD4</text></g>
<g id="f-mtmr2"><circle cx="2092" cy="4453" r="20" fill="#ffff00"/><text class="lbl rd ff" x="2092" y="4507">MTMR2</text></g>
<g id="f-mod"><circle cx="1786" cy="3950" r="38" fill="#adf55f"/></g>
<g id="f-regip"><circle cx="2462" cy="4047" r="38" fill="#9a45c8"/><text class="lbl gr ff" x="2458" y="4122">regulation of inositol phosphate</text><text class="lbl gr ff" x="2458" y="4190">biosynthetic process</text></g>
<g id="f-ipbio"><circle cx="2106" cy="4248" r="38" fill="#9a45c8"/><text class="lbl gr ff" x="2099" y="4322">inositol phosphate biosynthetic</text><text class="lbl gr ff" x="2099" y="4392">process</text></g>
<g id="f-ipmet"><circle cx="2493" cy="4496" r="38" fill="#9a45c8"/></g>
<g id="f-cluster-labels">
<text class="lbl bd" style="font-size:81px" fill="#a8f55a" x="1777" y="4045">modulation of</text>
<text class="lbl bd" style="font-size:81px" fill="#a8f55a" x="1777" y="4158">excitatory</text>
<text class="lbl bd" style="font-size:81px" fill="#a8f55a" x="1777" y="4270">postsynaptic</text>
<text class="lbl bd" style="font-size:81px" fill="#a8f55a" x="1777" y="4381">potential</text>
<text class="lbl bd" style="font-size:81px" fill="#8c2ec6" x="2484" y="4596">inositol phosphate</text>
<text class="lbl bd" style="font-size:81px" fill="#8c2ec6" x="2484" y="4707">metabolic process</text>
</g>
</svg>
